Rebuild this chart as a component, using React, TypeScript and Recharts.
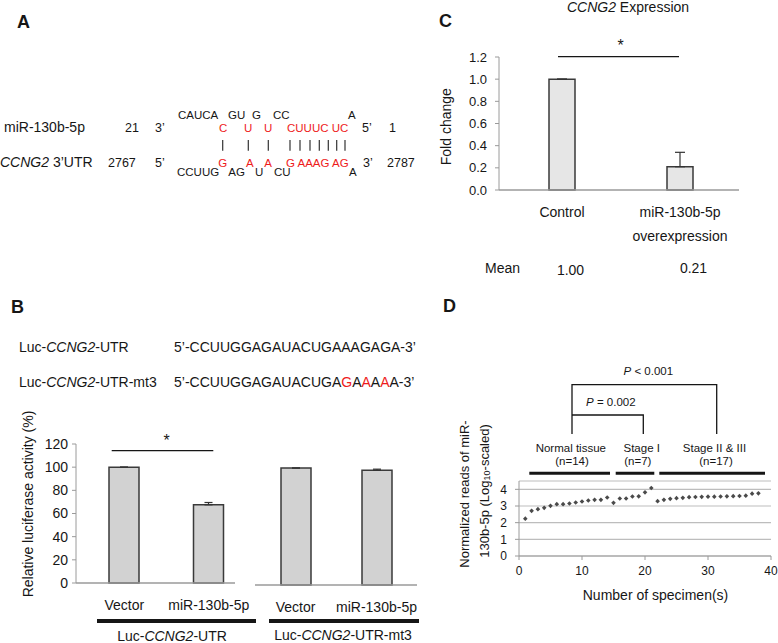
import React from 'react';
import { BarChart, Bar, XAxis, YAxis, ErrorBar, ScatterChart, Scatter, CartesianGrid } from 'recharts';

const FONT = '"Liberation Sans", Arial, sans-serif';
const INK = '#161616';
const RED = '#ee1b1b';
const AXIS = '#9a9a9a';

// Panel B: luciferase reporter assay
const lucCategories = ['Vector', 'miR-130b-5p'];
const lucUtrMeans = [100, 67.5];
const lucUtrErrors = [0, 2];
const lucMt3Means = [101, 99];
const lucMt3Errors = [0, 1];
const lucTicks = [0, 20, 40, 60, 80, 100, 120];

// Panel C: CCNG2 expression
const exprCategories = ['Control', 'miR-130b-5p\noverexpression'];
const exprMeans = [1.0, 0.21];
const exprErrors = [0, 0.13];
const exprTicks = [0, 0.2, 0.4, 0.6, 0.8, 1.0, 1.2];

// Panel D: normalized reads per specimen
const normalReads = [2.24, 2.71, 2.81, 2.89, 3.01, 3.11, 3.11, 3.15, 3.21, 3.27, 3.33, 3.37, 3.37, 3.51];
const stageIReads = [3.19, 3.45, 3.45, 3.57, 3.58, 3.82, 4.08];
const stageIIReads = [3.29, 3.37, 3.43, 3.47, 3.49, 3.53, 3.54, 3.55, 3.56, 3.56, 3.57, 3.58, 3.59, 3.6, 3.62, 3.74, 3.76];
const readTicks = [0, 1, 2, 3, 4];
const specimenTicks = [0, 10, 20, 30, 40];

const toBarData = (names: string[], means: number[], errs: number[]) =>
  names.map((name, i) => ({ name, value: means[i], err: [0, errs[i]] }));

const lucUtrData = toBarData(lucCategories, lucUtrMeans, lucUtrErrors);
const lucMt3Data = toBarData(lucCategories, lucMt3Means, lucMt3Errors);
const exprData = toBarData(exprCategories, exprMeans, exprErrors);
const readsData = [...normalReads, ...stageIReads, ...stageIIReads].map((y, i) => ({ x: i + 1, y }));

const T = (props: any) => <text fontFamily={FONT} fill={INK} {...props} />;

const CategoryTick = ({ x, y, payload, fontSize = 14, lineGap = 24 }: any) => {
  const lines = String(payload.value).split('\n');
  return (
    <g>
      {lines.map((line: string, i: number) => (
        <text key={i} x={x} y={y + 27 + i * lineGap} textAnchor="middle" fontSize={fontSize} fontFamily={FONT} fill={INK}>
          {line}
        </text>
      ))}
    </g>
  );
};

const Dot = ({ cx, cy }: any) => (
  <path d={`M${cx},${cy - 2.3} L${cx + 2.3},${cy} L${cx},${cy + 2.3} L${cx - 2.3},${cy} Z`} fill="#4a4a4a" />
);

const barStyle = { fill: '#d2d2d2', stroke: '#3a3a3a', strokeWidth: 1.5 };
const yTick = { fontSize: 14, fill: INK, fontFamily: FONT };

const LucChart = ({ data, left, top, width, showY, padding, dash }: any) => (
  <div style={{ position: 'absolute', left, top }}>
    <BarChart width={width} height={200} data={data} margin={{ top: 24, right: showY ? 3 : 8, bottom: 0, left: 0 }}>
      <XAxis
        dataKey="name"
        padding={padding}
        tickLine={false}
        tickSize={0}
        tickMargin={0}
        height={37}
        axisLine={{ stroke: AXIS, strokeWidth: 1.3, strokeDasharray: dash }}
        tick={<CategoryTick />}
        interval={0}
      />
      <YAxis
        hide={!showY}
        width={66}
        domain={[0, 120]}
        ticks={lucTicks}
        interval={0}
        tickSize={4}
        tickMargin={4}
        axisLine={{ stroke: AXIS }}
        tickLine={{ stroke: AXIS }}
        tick={yTick}
      />
      <Bar dataKey="value" barSize={30} {...barStyle} isAnimationActive={false}>
        <ErrorBar dataKey="err" direction="y" width={4} stroke="#333" strokeWidth={1.2} />
      </Bar>
    </BarChart>
  </div>
);

const Overlay = () => (
  <svg width={778} height={643} style={{ position: 'absolute', left: 0, top: 0, pointerEvents: 'none' }}>
    {/* panel letters */}
    <T x={17} y={28} fontSize={18} fontWeight="bold">A</T>
    <T x={11} y={313} fontSize={18} fontWeight="bold">B</T>
    <T x={439} y={27} fontSize={18} fontWeight="bold">C</T>
    <T x={443} y={312} fontSize={18} fontWeight="bold">D</T>

    {/* panel A: duplex */}
    <T x={4} y={131.5} fontSize={14}>miR-130b-5p</T>
    <T x={125} y={131.5} fontSize={12.5}>21</T>
    <T x={155} y={131.5} fontSize={12.5}>3’</T>
    <T x={362} y={131.5} fontSize={12.5}>5’</T>
    <T x={389} y={131.5} fontSize={12.5}>1</T>
    <T x={0} y={166.7} fontSize={14}><tspan fontStyle="italic">CCNG2</tspan> 3’UTR</T>
    <T x={108} y={166.7} fontSize={12.5}>2767</T>
    <T x={155} y={166.7} fontSize={12.5}>5’</T>
    <T x={363} y={166.7} fontSize={12.5}>3’</T>
    <T x={387} y={166.7} fontSize={12.5}>2787</T>
    <g fontSize={11.5}>
      <T x={178} y={118.5}>CAUCA</T>
      <T x={228} y={118.5}>GU</T>
      <T x={252} y={118.5}>G</T>
      <T x={273} y={118.5}>CC</T>
      <T x={348} y={118.5}>A</T>
      <T x={219} y={131.7} fill={RED}>C</T>
      <T x={244} y={131.7} fill={RED}>U</T>
      <T x={264} y={131.7} fill={RED}>U</T>
      <T x={287} y={131.7} fill={RED}>CUUUC UC</T>
      <T x={218.3} y={166.7} fill={RED}>G</T>
      <T x={246} y={166.7} fill={RED}>A</T>
      <T x={264.3} y={166.7} fill={RED}>A</T>
      <T x={286} y={166.7} fill={RED}>G AAAG AG</T>
      <T x={177} y={176}>CCUUG</T>
      <T x={228.3} y={176}>AG</T>
      <T x={255} y={176}>U</T>
      <T x={274} y={176}>CU</T>
      <T x={349} y={176}>A</T>
    </g>
    {[222.7, 248.3, 268.3, 290, 300, 310, 319.3, 328.3, 336.7, 345].map((x) => (
      <line key={x} x1={x} x2={x} y1={140} y2={150.7} stroke="#333" strokeWidth={1.2} />
    ))}

    {/* panel B: constructs */}
    <T x={19} y={351.7} fontSize={14}>Luc-<tspan fontStyle="italic">CCNG2</tspan>-UTR</T>
    <T x={174} y={351.7} fontSize={14}>5’-CCUUGGAGAUACUGAAAGAGA-3’</T>
    <T x={19} y={386.7} fontSize={14}>Luc-<tspan fontStyle="italic">CCNG2</tspan>-UTR-mt3</T>
    <T x={174} y={386.7} fontSize={14}>
      5’-CCUUGGAGAUACUGA<tspan fill={RED}>G</tspan>A<tspan fill={RED}>A</tspan>A<tspan fill={RED}>A</tspan>A-3’
    </T>
    <T transform="translate(27.5,504) rotate(-90)" textAnchor="middle" dominantBaseline="central" fontSize={14}>
      Relative luciferase activity (%)
    </T>
    <line x1={111.7} x2={213.3} y1={450.7} y2={450.7} stroke={INK} strokeWidth={1.3} />
    <T x={166.7} y={446} textAnchor="middle" fontSize={16}>*</T>
    <line x1={97} x2={256} y1={621} y2={621} stroke={INK} strokeWidth={4} />
    <line x1={269} x2={419} y1={621} y2={621} stroke={INK} strokeWidth={4} />
    <T x={172} y={641} textAnchor="middle" fontSize={14}>Luc-<tspan fontStyle="italic">CCNG2</tspan>-UTR</T>
    <T x={343} y={640} textAnchor="middle" fontSize={14}>Luc-<tspan fontStyle="italic">CCNG2</tspan>-UTR-mt3</T>

    {/* panel C */}
    <T x={628} y={11.5} textAnchor="middle" fontSize={14}><tspan fontStyle="italic">CCNG2</tspan> Expression</T>
    <T transform="translate(446,126.7) rotate(-90)" textAnchor="middle" dominantBaseline="central" fontSize={14}>
      Fold change
    </T>
    <line x1={558} x2={679} y1={56.7} y2={56.7} stroke={INK} strokeWidth={1.3} />
    <T x={620.5} y={51} textAnchor="middle" fontSize={16}>*</T>
    <T x={485} y={273} fontSize={14}>Mean</T>
    <T x={570.5} y={274.5} textAnchor="middle" fontSize={14}>{exprMeans[0].toFixed(2)}</T>
    <T x={693.5} y={273} textAnchor="middle" fontSize={14}>{exprMeans[1].toFixed(2)}</T>

    {/* panel D annotations */}
    <T x={648.3} y={375} textAnchor="middle" fontSize={11.5}><tspan fontStyle="italic">P</tspan> &lt; 0.001</T>
    <T x={610.8} y={406} textAnchor="middle" fontSize={11.5}><tspan fontStyle="italic">P</tspan> = 0.002</T>
    <path d="M572,434 V384.7 H716.7 V434" fill="none" stroke={INK} strokeWidth={1.3} />
    <path d="M572,415 H643.3 V434" fill="none" stroke={INK} strokeWidth={1.3} />
    <g fontSize={11.5}>
      <T x={570.8} y={451.7} textAnchor="middle">Normal tissue</T>
      <T x={572} y={465} textAnchor="middle">(n=14)</T>
      <T x={641.7} y={451.7} textAnchor="middle">Stage I</T>
      <T x={637.8} y={465} textAnchor="middle">(n=7)</T>
      <T x={714.5} y={451.7} textAnchor="middle">Stage II &amp; III</T>
      <T x={716} y={465} textAnchor="middle">(n=17)</T>
    </g>
    <line x1={529.3} x2={610} y1={473.3} y2={473.3} stroke={INK} strokeWidth={3} />
    <line x1={615.7} x2={654.3} y1={473.3} y2={473.3} stroke={INK} strokeWidth={3} />
    <line x1={659.3} x2={765} y1={473.3} y2={473.3} stroke={INK} strokeWidth={3} />
    <T transform="translate(464,494) rotate(-90)" textAnchor="middle" dominantBaseline="central" fontSize={13}>
      Normalized reads of miR-
    </T>
    <T transform="translate(484,491) rotate(-90)" textAnchor="middle" dominantBaseline="central" fontSize={13}>
      130b-5p (Log<tspan fontSize={9} dy={3}>10</tspan><tspan dy={-3}>-scaled)</tspan>
    </T>
    <T x={655.5} y={600} textAnchor="middle" fontSize={14}>Number of specimen(s)</T>
  </svg>
);

export default function App() {
  return (
    <div style={{ position: 'absolute', left: 0, top: 0, width: 778, height: 643, background: '#fff', fontFamily: FONT }}>
      <LucChart data={lucUtrData} left={10} top={420} width={250} showY padding={{ left: 6, right: 6 }} dash="159 400" />
      <LucChart data={lucMt3Data} left={255} top={422} width={170} showY={false} padding={{ left: 0, right: 0 }} dash="0" />

      <div style={{ position: 'absolute', left: 440, top: 0 }}>
        <BarChart width={320} height={250} data={exprData} margin={{ top: 57, right: 21, bottom: 0, left: 0 }}>
          <XAxis
            dataKey="name"
            padding={{ left: 4, right: 0 }}
            tickLine={false}
            tickSize={0}
            tickMargin={0}
            height={60}
            axisLine={{ stroke: AXIS, strokeWidth: 1.3 }}
            tick={<CategoryTick />}
            interval={0}
          />
          <YAxis
            width={59}
            domain={[0, 1.2]}
            ticks={exprTicks}
            interval={0}
            tickFormatter={(v: number) => v.toFixed(1)}
            tickSize={4}
            tickMargin={8}
            axisLine={{ stroke: AXIS }}
            tickLine={{ stroke: AXIS }}
            tick={{ ...yTick, fontSize: 13 }}
          />
          <Bar dataKey="value" barSize={26} fill="#e6e6e6" stroke="#3a3a3a" strokeWidth={1.5} isAnimationActive={false}>
            <ErrorBar dataKey="err" direction="y" width={5} stroke="#333" strokeWidth={1.2} />
          </Bar>
        </BarChart>
      </div>

      <div style={{ position: 'absolute', left: 445, top: 470 }}>
        <ScatterChart width={333} height={116} margin={{ top: 11, right: 7, bottom: 0, left: 0 }}>
          <CartesianGrid vertical={false} stroke="#bdbdbd" strokeWidth={1.2} />
          <XAxis
            type="number"
            dataKey="x"
            domain={[0, 40]}
            ticks={specimenTicks}
            interval={0}
            tickSize={4}
            tickMargin={6}
            height={30}
            axisLine={{ stroke: AXIS }}
            tickLine={{ stroke: AXIS }}
            tick={{ ...yTick, fontSize: 12 }}
          />
          <YAxis
            type="number"
            dataKey="y"
            width={74}
            domain={[0, 4.5]}
            ticks={readTicks}
            interval={0}
            tickSize={4}
            tickMargin={8}
            axisLine={{ stroke: AXIS }}
            tickLine={{ stroke: AXIS }}
            tick={{ ...yTick, fontSize: 12 }}
          />
          <Scatter data={readsData} shape={<Dot />} isAnimationActive={false} />
        </ScatterChart>
      </div>

      <Overlay />
    </div>
  );
}
